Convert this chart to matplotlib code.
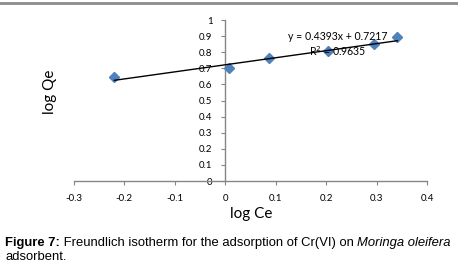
import matplotlib
matplotlib.use('Agg')
import matplotlib.pyplot as plt
from matplotlib.lines import Line2D
import numpy as np

log_ce = [-0.219, 0.008, 0.087, 0.203, 0.294, 0.341]
log_qe = [0.646, 0.700, 0.762, 0.805, 0.853, 0.896]
slope = 0.4393
intercept = 0.7217
r2 = 0.9635

xticks = [-0.3, -0.2, -0.1, 0, 0.1, 0.2, 0.3, 0.4]
yticks = [0, 0.1, 0.2, 0.3, 0.4, 0.5, 0.6, 0.7, 0.8, 0.9, 1]

fig = plt.figure(figsize=(4.58, 2.68), dpi=100)
ax = fig.add_axes([0.1605, 0.3246, 0.772, 0.6007])

ax.plot(log_ce, log_qe, linestyle='none', marker='D', markersize=5.5,
        color='#4F81BD', zorder=3)
xs = np.array([min(log_ce), max(log_ce)])
ax.plot(xs, slope * xs + intercept, color='black', lw=1, zorder=4)

ax.set_xlim(-0.3, 0.4)
ax.set_ylim(0, 1)
ax.spines['left'].set_position(('data', 0))
ax.spines['top'].set_visible(False)
ax.spines['right'].set_visible(False)
for s in ['left', 'bottom']:
    ax.spines[s].set_color('#868686')
    ax.spines[s].set_linewidth(1)
ax.set_xticks(xticks)
ax.set_yticks(yticks)
ax.set_xticklabels([('%g' % v) for v in xticks], fontsize=7, family='Lato')
ax.set_yticklabels([('%g' % v) for v in yticks], fontsize=7, family='Lato')
ax.tick_params(axis='both', length=3, color='#868686', pad=6)

ax.text(0.223, 0.898, 'y = %.4fx + %.4f' % (slope, intercept), fontsize=7.6,
        family='Lato', ha='center', va='center', zorder=5)
ax.text(0.223, 0.807, 'R$^2$ = %.4f' % r2, fontsize=7.6, family='Lato',
        ha='center', va='center', zorder=5)

fig.text(251 / 458, 1 - 214 / 268, 'log Ce', fontsize=11, family='Lato',
         ha='center', va='center')
fig.text(50 / 458, 1 - 92 / 268, 'log Qe', fontsize=11, family='Lato',
         ha='center', va='center', rotation=90)

fig.add_artist(Line2D([0, 1], [1 - 3 / 268, 1 - 3 / 268], color='#8c8c8c', lw=2))

# caption pieces
renderer = fig.canvas.get_renderer()
pieces = [('Figure 7:', 'bold', 'normal'),
          (' Freundlich isotherm for the adsorption of Cr(VI) on ', 'normal', 'normal'),
          ('Moringa oleifera', 'normal', 'italic')]
x = 5
y1 = 1 - 243 / 268
for txt, w, st in pieces:
    t = fig.text(x / 458, y1, txt, fontsize=9.4, family='Liberation Sans',
                 weight=w, style=st, va='center', ha='left')
    bb = t.get_window_extent(renderer)
    x += bb.width
fig.text(5 / 458, 1 - 257 / 268, 'adsorbent.', fontsize=9.4,
         family='Liberation Sans', va='center', ha='left')

fig.savefig('out.png', dpi=100)
